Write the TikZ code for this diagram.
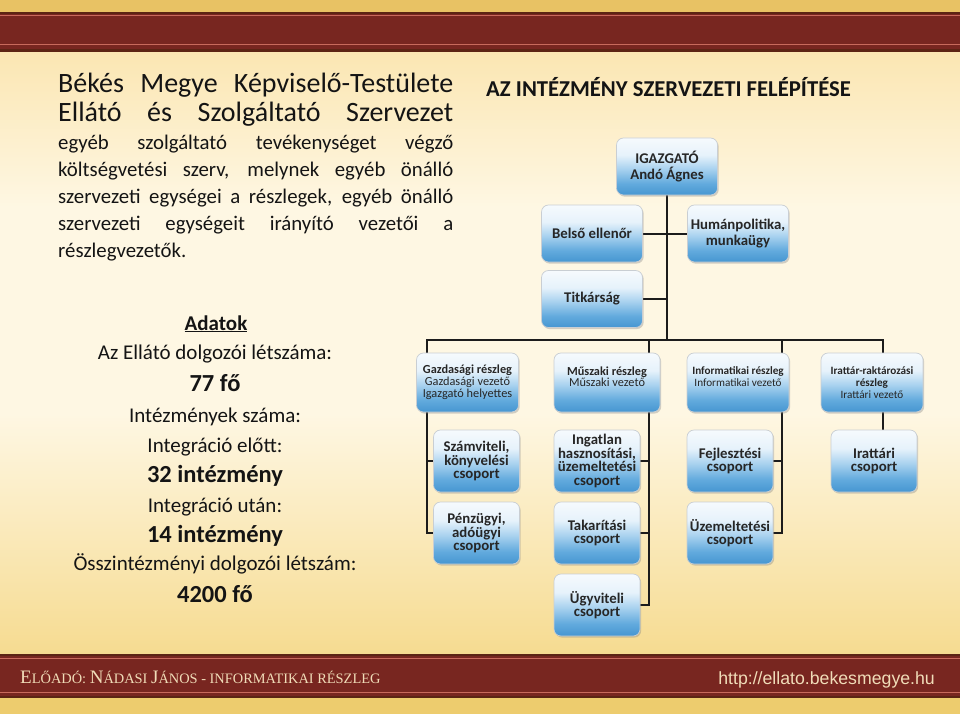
\documentclass[tikz,border=0pt]{standalone}
\usepackage{fontspec}
\setmainfont{Carlito}
\newfontfamily\footfont{Liberation Serif}
\newfontfamily\urlfont{Liberation Sans}
\usetikzlibrary{positioning,shadows}

\definecolor{goldtop}{HTML}{E8C264}
\definecolor{goldbot}{HTML}{EDCC6E}
\definecolor{bandred}{HTML}{A23D2F}
\definecolor{banddark}{HTML}{782620}
\definecolor{bandedge}{HTML}{5C2414}
\definecolor{bandline}{HTML}{C86A5C}
\definecolor{pagetop}{HTML}{FBE6B2}
\definecolor{pagemid}{HTML}{FEF7E3}
\definecolor{pagebot}{HTML}{F6DB90}
\definecolor{boxtop}{HTML}{F6FAFD}
\definecolor{boxlight}{HTML}{E6F2FB}
\definecolor{boxmid}{HTML}{A9D2EF}
\definecolor{boxblue}{HTML}{62AADD}
\definecolor{boxbot}{HTML}{4696D1}
\definecolor{boxrim}{HTML}{C9CED3}
\definecolor{boxtext}{HTML}{262626}
\definecolor{wire}{HTML}{1C1C1C}
\definecolor{ink}{HTML}{141414}
\definecolor{footcream}{HTML}{F0DCB8}

\pgfdeclareverticalshading{boxshade}{100bp}{color(0bp)=(boxbot); color(25bp)=(boxbot); color(35bp)=(boxblue); color(48bp)=(boxmid); color(60bp)=(boxlight); color(75bp)=(boxtop); color(100bp)=(boxtop)}
\pgfdeclareverticalshading{pageshade}{100bp}{color(0bp)=(pagebot); color(25bp)=(pagebot); color(45bp)=(pagemid); color(62bp)=(pagemid); color(75bp)=(pagetop); color(100bp)=(pagetop)}

\pgfdeclarelayer{page}
\pgfdeclarelayer{wires}
\pgfsetlayers{page,wires,main}

\newcommand{\footcap}[1]{{\fontsize{19}{19}\selectfont #1}}
\newcommand{\footsmall}[1]{{\fontsize{14.4}{15}\selectfont #1}}

\begin{document}
\begin{tikzpicture}[x=1pt, y=-1pt]
\tikzstyle{unit} = [rectangle, rounded corners=7pt, shade, shading=boxshade, draw=boxrim, line width=0.7pt, drop shadow={shadow xshift=1.2pt, shadow yshift=-1.6pt, opacity=0.35}, text=boxtext, align=center, inner sep=1pt, minimum width=101pt, minimum height=57pt, font=\bfseries\fontsize{14.8}{15.5}\selectfont]
\tikzstyle{dept} = [unit, minimum width=102pt, minimum height=59pt, font=\fontsize{12.3}{11.8}\selectfont]
\tikzstyle{deptsmall} = [dept, font=\fontsize{11.2}{11.8}\selectfont]
\tikzstyle{group} = [unit, minimum width=86pt, minimum height=62pt, font=\bfseries\fontsize{14.8}{13.6}\selectfont]
\tikzstyle{conn} = [draw=wire, line width=2pt]
\tikzstyle{plain} = [inner sep=0pt, text=ink]
\tikzstyle{headline} = [plain, anchor=base west, font=\fontsize{28}{28}\selectfont]
\tikzstyle{bodyline} = [plain, anchor=base west, font=\fontsize{20.8}{21}\selectfont]
\tikzstyle{datum} = [plain, anchor=base, font=\fontsize{21}{21}\selectfont]
\tikzstyle{datnum} = [plain, anchor=base, font=\bfseries\fontsize{24.5}{24.5}\selectfont]

\useasboundingbox (0,0) rectangle (960,714);

% background and bands
\begin{pgfonlayer}{page}
\shade [shading=pageshade] (0,50) rectangle (960,656);
\fill [goldtop] (0,0) rectangle (960,13);
\shade [left color=banddark, middle color=bandred, right color=banddark] (0,13) rectangle (960,51);
\fill [bandedge] (0,12) rectangle (960,14);
\fill [bandline] (0,15) rectangle (960,16);
\fill [bandline] (0,44) rectangle (960,45.2);
\fill [bandedge] (0,49.5) rectangle (960,52);
\shade [left color=banddark, middle color=bandred, right color=banddark] (0,655) rectangle (960,697);
\fill [bandedge] (0,654) rectangle (960,656);
\fill [bandline] (0,658) rectangle (960,659);
\fill [bandline] (0,691.5) rectangle (960,692.7);
\fill [bandedge] (0,696) rectangle (960,698);
\fill [goldbot] (0,698) rectangle (960,714);
\end{pgfonlayer}

% left text
\node (head1) [headline] at (58,93) {\makebox[395pt][s]{Békés Megye Képviselő-Testülete}};
\node (head2) [headline] at (58,122) {\makebox[395pt][s]{Ellátó és Szolgáltató Szervezet}};
\node (body1) [bodyline] at (58,150) {\makebox[395pt][s]{egyéb szolgáltató tevékenységet végző}};
\node (body2) [bodyline] at (58,177) {\makebox[395pt][s]{költségvetési szerv, melynek egyéb önálló}};
\node (body3) [bodyline] at (58,203) {\makebox[395pt][s]{szervezeti egységei a részlegek, egyéb önálló}};
\node (body4) [bodyline] at (58,230) {\makebox[395pt][s]{szervezeti egységeit irányító vezetői a}};
\node (body5) [bodyline] at (58,257) {részlegvezetők.};

\node (adatok) [plain, anchor=base, font=\bfseries\fontsize{21}{21}\selectfont] at (216,330) {\underline{Adatok}};
\node (letszam) [datum] at (215,359) {Az Ellátó dolgozói létszáma:};
\node (fo77) [datnum] at (215,391) {77 fő};
\node (intszam) [datum] at (215,422) {Intézmények száma:};
\node (elott) [datum] at (215,452) {Integráció előtt:};
\node (int32) [datnum] at (215,482) {32 intézmény};
\node (utan) [datum] at (215,512) {Integráció után:};
\node (int14) [datnum] at (215,542) {14 intézmény};
\node (ossz) [datum] at (215,570) {Összintézményi dolgozói létszám:};
\node (fo4200) [datnum] at (215,602) {4200 fő};

% chart
\node (cim) [plain, anchor=base west, font=\bfseries\fontsize{22.7}{23}\selectfont] at (486,97) {AZ INTÉZMÉNY SZERVEZETI FELÉPÍTÉSE};

\node (igazgato) [unit] at (667,166.5) {IGAZGATÓ\\Andó Ágnes};
\node (belso) [unit] at (592,233.5) {Belső ellenőr};
\node (human) [unit] at (738,233.5) {Humánpolitika,\\munkaügy};
\node (titkar) [unit] at (592,299) {Titkárság};

\node (gazd) [dept] at (467.5,382.5) {\textbf{Gazdasági részleg}\\Gazdasági vezető\\Igazgató helyettes};
\node (muszaki) [dept, minimum width=106pt] at (607,382.5) {\textbf{Műszaki részleg}\\Műszaki vezető\\\mbox{}};
\node (info) [deptsmall] at (738,382.5) {\textbf{Informatikai részleg}\\Informatikai vezető\\\mbox{}};
\node (irattar) [deptsmall] at (872,382.5) {\textbf{Irattár-raktározási}\\\textbf{részleg}\\Irattári vezető};

\node (szamviteli) [group] at (476.5,461) {Számviteli,\\könyvelési\\csoport};
\node (penzugyi) [group] at (476.5,533) {Pénzügyi,\\adóügyi\\csoport};
\node (ingatlan) [group] at (597,461) {Ingatlan\\hasznosítási,\\üzemeltetési\\csoport};
\node (takaritasi) [group] at (597,533) {Takarítási\\csoport};
\node (ugyviteli) [group] at (597,605) {Ügyviteli\\csoport};
\node (fejlesztesi) [group] at (730,461) {Fejlesztési\\csoport};
\node (uzemeltetesi) [group] at (730,533) {Üzemeltetési\\csoport};
\node (irattari) [group] at (874,461) {Irattári\\csoport};

\coordinate (lvlL) at (427,340);
\coordinate (lvlR) at (883,340);
\coordinate (mdrop) at (649,340);
\coordinate (idrop) at (782,340);

\begin{pgfonlayer}{wires}
\draw [conn] (igazgato.south) -- (igazgato.south |- lvlL);
\draw [conn] (belso.east) -- (human.west);
\draw [conn] (titkar.east) -- (titkar.east -| igazgato.south);
\draw [conn] (penzugyi.west) -| (lvlL) -- (lvlR) -- (lvlR |- irattari.north);
\draw [conn] (szamviteli.west) -- (szamviteli.west -| lvlL);
\draw [conn] (mdrop) |- (ugyviteli.east);
\draw [conn] (ingatlan.east) -- (ingatlan.east -| mdrop);
\draw [conn] (takaritasi.east) -- (takaritasi.east -| mdrop);
\draw [conn] (idrop) |- (uzemeltetesi.east);
\draw [conn] (fejlesztesi.east) -- (fejlesztesi.east -| idrop);
\end{pgfonlayer}

% footer
\node (eloado) [plain, anchor=base west, text=footcream] at (20,683) {\footfont\footcap{E}\footsmall{LŐADÓ: }\footcap{N}\footsmall{ÁDASI }\footcap{J}\footsmall{ÁNOS - INFORMATIKAI RÉSZLEG}};
\node (url) [plain, anchor=base east, text=footcream, font=\urlfont\fontsize{17.7}{18}\selectfont] at (935,684) {http://ellato.bekesmegye.hu};
\end{tikzpicture}
\end{document}
